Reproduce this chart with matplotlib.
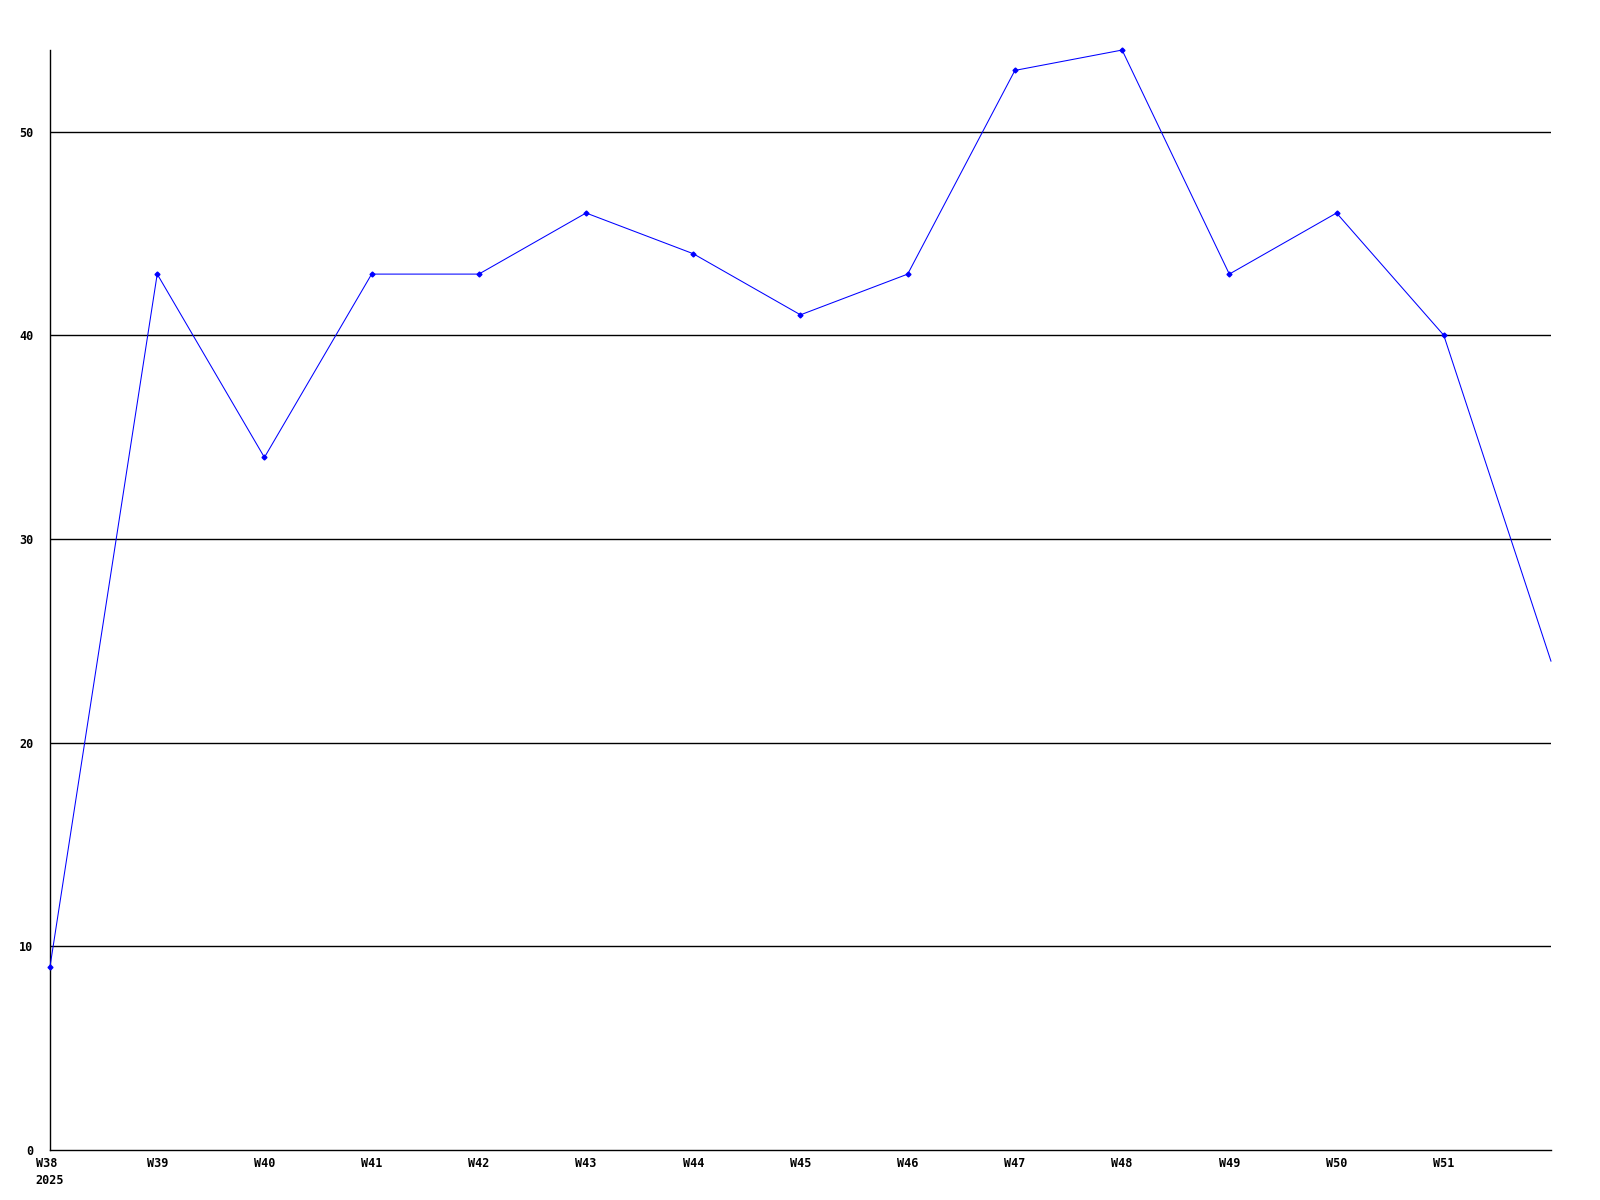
import matplotlib
matplotlib.use("Agg")
import matplotlib.pyplot as plt
import matplotlib.transforms as mtransforms

weeks = ["W38", "W39", "W40", "W41", "W42", "W43", "W44", "W45", "W46",
         "W47", "W48", "W49", "W50", "W51", "W52"]
values = [9, 43, 34, 43, 43, 46, 44, 41, 43, 53, 54, 43, 46, 40, 24]
tick_labels = ["W38\n2025", "W39", "W40", "W41", "W42", "W43", "W44", "W45",
               "W46", "W47", "W48", "W49", "W50", "W51"]
yticks = [0, 10, 20, 30, 40, 50]

fig = plt.figure(figsize=(16, 12), dpi=100)
ax = fig.add_axes([0.03125, 0.0417, 0.9381, 0.9166])
x = list(range(len(values)))
ax.plot(x, values, color="#0000ff", linewidth=0.75, zorder=3, clip_on=False)
ax.plot(x[:-1], values[:-1], linestyle="none", marker="D", markersize=2.5,
        color="#0000ff", zorder=4, clip_on=False)

ax.set_xlim(0, len(values) - 1)
ax.set_ylim(0, 54)
ax.set_yticks(yticks)
ax.set_yticklabels([str(v) for v in yticks], family="DejaVu Sans Mono",
                   fontweight="bold", fontsize=8.5)
ax.set_xticks(x[:-1])
ax.set_xticklabels(tick_labels, family="DejaVu Sans Mono", fontweight="bold",
                   fontsize=8.5, linespacing=1.45)
for lbl in ax.get_xticklabels():
    lbl.set_verticalalignment("top")
    lbl.set_multialignment("left")
first = ax.get_xticklabels()[0]
first.set_transform(first.get_transform() +
                    mtransforms.ScaledTranslation(3 / 100, 0, fig.dpi_scale_trans))
ax.tick_params(axis="both", length=0)
ax.tick_params(axis="y", pad=12)
ax.tick_params(axis="x", pad=5)
for v in yticks[1:]:
    ax.axhline(v, color="black", linewidth=1.0, zorder=1)
for s in ["top", "right"]:
    ax.spines[s].set_visible(False)
for s in ["left", "bottom"]:
    ax.spines[s].set_color("black")
    ax.spines[s].set_linewidth(1.0)

fig.savefig("out.png", dpi=100, facecolor="white")
